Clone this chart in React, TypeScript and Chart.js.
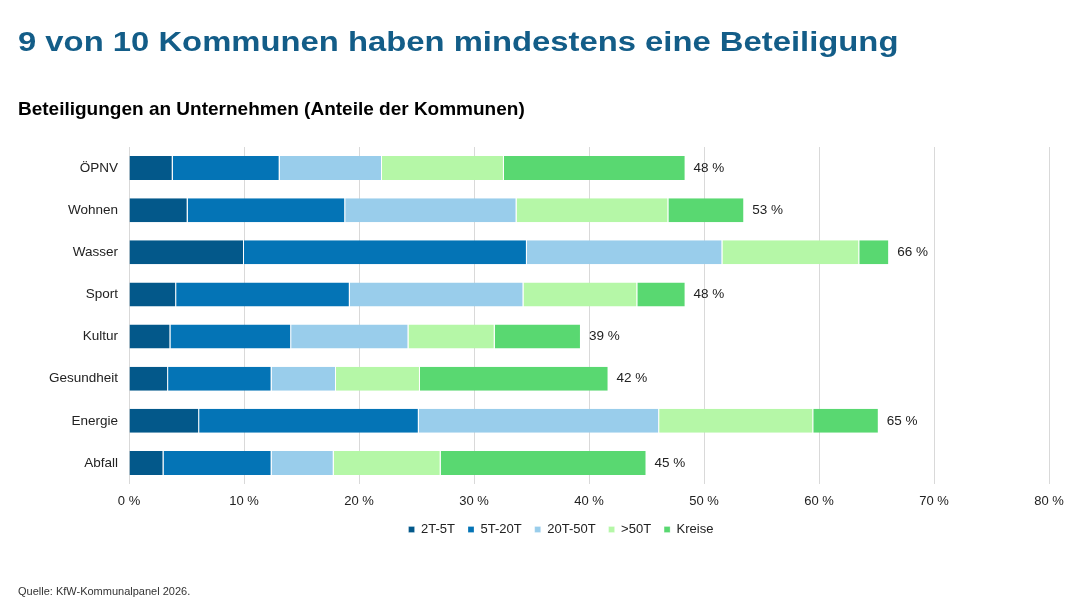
import React, { useEffect, useRef } from "react";
import { Chart, registerables } from "chart.js";

Chart.register(...registerables);

// Aufgabenbereiche (y-Achse)
const categories = ["ÖPNV", "Wohnen", "Wasser", "Sport", "Kultur", "Gesundheit", "Energie", "Abfall"];

// Gemeindegrößenklassen / Kreise
const seriesNames = ["2T-5T", "5T-20T", "20T-50T", ">50T", "Kreise"];

// Anteile in Prozentpunkten je Aufgabenbereich
const values2T5T = [3.8, 5.1, 10.0, 4.1, 3.6, 3.4, 6.1, 3.0];
const values5T20T = [9.3, 13.7, 24.6, 15.1, 10.5, 9.0, 19.1, 9.4];
const values20T50T = [8.9, 14.9, 17.0, 15.1, 10.2, 5.6, 20.9, 5.4];
const valuesOver50T = [10.6, 13.2, 11.9, 9.9, 7.5, 7.3, 13.4, 9.3];
const valuesKreise = [15.8, 6.6, 2.6, 4.2, 7.5, 16.4, 5.7, 17.9];

const seriesColors = ["#03588a", "#0474b6", "#99cdeb", "#b5f7a7", "#59d871"];

// x-Achse
const xMin = 0;
const xMax = 80;
const xStep = 10;

const FONT = "'Liberation Sans', Arial, Helvetica, sans-serif";

const totals = categories.map(
  (_, i) => values2T5T[i] + values5T20T[i] + values20T50T[i] + valuesOver50T[i] + valuesKreise[i]
);

// Summenbeschriftung rechts neben jedem Balken
const totalLabels = {
  id: "totalLabels",
  afterDatasetsDraw(chart: Chart) {
    const ctx = chart.ctx;
    const lastIndex = chart.data.datasets.length - 1;
    const meta = chart.getDatasetMeta(lastIndex);
    ctx.save();
    ctx.font = `13.5px ${FONT}`;
    ctx.fillStyle = "#222222";
    ctx.textAlign = "left";
    ctx.textBaseline = "middle";
    meta.data.forEach((el: any, i: number) => {
      ctx.fillText(`${Math.round(totals[i])} %`, el.x + 8, el.y);
    });
    ctx.restore();
  },
};

// Legende mittig unter der Zeichenfläche statt unter der ganzen Leinwand
const centerLegendOnPlot = {
  id: "centerLegendOnPlot",
  afterLayout(chart: any) {
    const legend = chart.legend;
    if (!legend) return;
    const area = chart.chartArea;
    const plotCenter = (area.left + area.right) / 2;
    const legendCenter = (legend.left + legend.right) / 2;
    const shift = plotCenter - legendCenter - 28;
    legend.left += shift;
    legend.right += shift;
  },
};

export default function App() {
  const canvasRef = useRef<HTMLCanvasElement | null>(null);

  useEffect(() => {
    if (!canvasRef.current) return;
    const seriesValues = [values2T5T, values5T20T, values20T50T, valuesOver50T, valuesKreise];
    const chart = new Chart(canvasRef.current, {
      type: "bar",
      data: {
        labels: categories,
        datasets: seriesNames.map((name, k) => ({
          label: name,
          data: seriesValues[k],
          backgroundColor: seriesColors[k],
          borderColor: "#ffffff",
          borderWidth: { top: 0, bottom: 0, left: 0, right: 1 },
          borderSkipped: false,
          barPercentage: 0.57,
          categoryPercentage: 1,
        })),
      },
      options: {
        indexAxis: "y",
        responsive: false,
        animation: false,
        layout: { padding: { top: 147, right: 31, bottom: 62, left: 0 } },
        scales: {
          x: {
            stacked: true,
            min: xMin,
            max: xMax,
            afterFit: (scale: any) => {
              scale.height = 26;
            },
            ticks: {
              stepSize: xStep,
              padding: 10,
              color: "#222222",
              font: { family: FONT, size: 13 },
              callback: (v: any) => `${v} %`,
            },
            grid: { color: "#d9d9d9", lineWidth: 1, drawTicks: false },
            border: { display: false },
          },
          y: {
            stacked: true,
            afterFit: (scale: any) => {
              scale.width = 129;
            },
            ticks: {
              padding: 11,
              color: "#222222",
              font: { family: FONT, size: 13.5 },
            },
            grid: { display: false, drawTicks: false },
            border: { display: false },
          },
        },
        plugins: {
          legend: {
            position: "bottom",
            labels: {
              usePointStyle: true,
              pointStyle: "rect",
              boxWidth: 6,
              boxHeight: 6,
              padding: 13,
              color: "#222222",
              font: { family: FONT, size: 13 },
            },
          },
          tooltip: { enabled: false },
        },
      },
      plugins: [totalLabels, centerLegendOnPlot],
    });
    return () => chart.destroy();
  }, []);

  return (
    <div
      style={{
        position: "absolute",
        left: 0,
        top: 0,
        width: 1080,
        height: 608,
        background: "#ffffff",
        fontFamily: FONT,
        overflow: "hidden",
      }}
    >
      <canvas ref={canvasRef} width={1080} height={608} style={{ position: "absolute", left: 0, top: 0 }} />
      <div
        style={{
          position: "absolute",
          left: 18,
          top: 27,
          fontSize: 27,
          lineHeight: "normal",
          fontWeight: 700,
          color: "#135d88",
          whiteSpace: "nowrap",
          transform: "scaleX(1.215)",
          transformOrigin: "left top",
        }}
      >
        9 von 10 Kommunen haben mindestens eine Beteiligung
      </div>
      <div
        style={{
          position: "absolute",
          left: 18,
          top: 98,
          fontSize: 19,
          fontWeight: 700,
          color: "#000000",
          whiteSpace: "nowrap",
        }}
      >
        Beteiligungen an Unternehmen (Anteile der Kommunen)
      </div>
      <div
        style={{
          position: "absolute",
          left: 18,
          top: 585,
          fontSize: 11,
          color: "#333333",
          whiteSpace: "nowrap",
        }}
      >
        Quelle: KfW-Kommunalpanel 2026.
      </div>
    </div>
  );
}
